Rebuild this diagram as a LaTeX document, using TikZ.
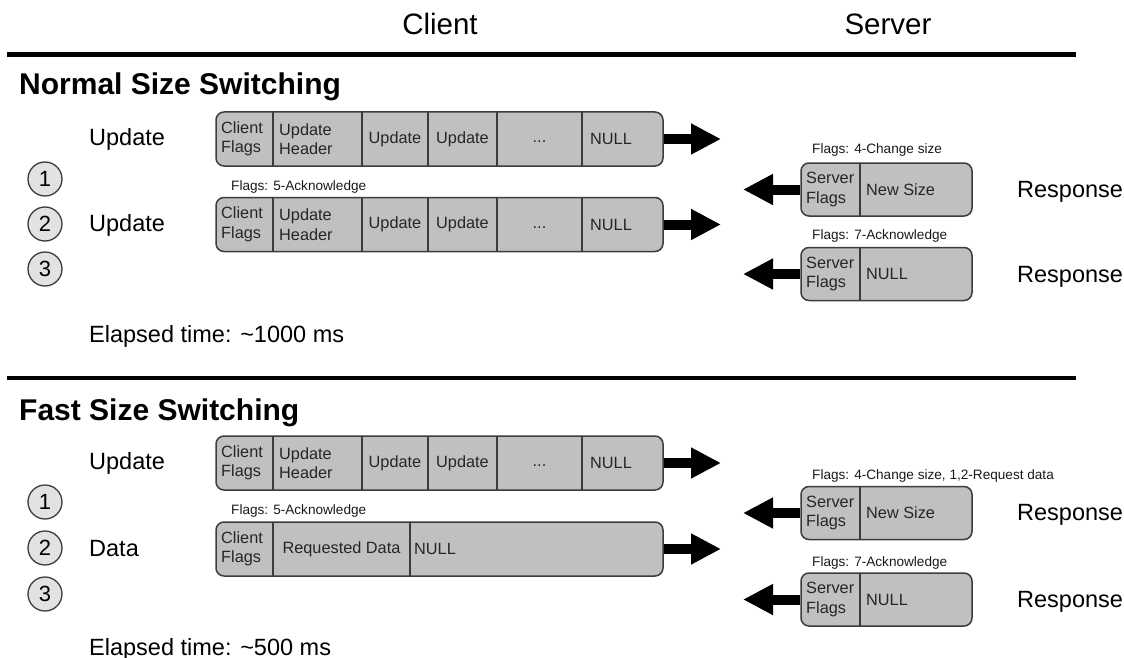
\documentclass[tikz,border=0pt]{standalone}
\usepackage{fontspec}
\setmainfont{Liberation Sans}
\usetikzlibrary{arrows.meta}
\definecolor{boxfill}{HTML}{C0C0C0}
\definecolor{boxline}{HTML}{3C3C3C}
\definecolor{circfill}{HTML}{E2E2E2}
\begin{document}
\begin{tikzpicture}[x=1pt,y=-1pt,
  pkt/.style={draw=boxline, line width=1.5pt, fill=boxfill, rounded corners=8pt, inner sep=0pt},
  cbox/.style={pkt, minimum width=447pt, minimum height=54pt},
  sbox/.style={pkt, minimum width=171pt, minimum height=53pt},
  cell/.style={font=\fontsize{16.3}{19.5}\selectfont, align=left, inner sep=0pt, text=black!85},
  flag/.style={font=\fontsize{13.6}{16}\selectfont, anchor=west, inner sep=0pt, text=black!90},
  lbl/.style={font=\fontsize{23.5}{28}\selectfont, anchor=base west, inner sep=0pt},
  head/.style={font=\fontsize{29.5}{34}\selectfont, anchor=base, inner sep=0pt},
  title/.style={font=\fontsize{30}{34}\selectfont\bfseries, anchor=base west, inner sep=0pt},
  num/.style={circle, draw=boxline, line width=1.3pt, fill=circfill, minimum size=34pt, inner sep=0pt, font=\fontsize{22}{26}\selectfont},
  bigarrow/.style={line width=10pt, -{Triangle[length=30pt,width=29pt]}},
  divider/.style={draw=boxline, line width=1.5pt},
  rule/.style={line width=4.5pt}
]
\useasboundingbox (0,0) rectangle (1124,658);

% headers
\node[head] (hclient) at (440,35) {Client};
\node[head] (hserver) at (888,35) {Server};
\draw[rule] (7,54.5) -- (1076,54.5);
\draw[rule] (7,378) -- (1076,378);

% ===== Normal Size Switching =====
\node[title] (tnormal) at (19,95) {Normal Size Switching};

\node[lbl] (lu1) at (89,146) {Update};
\node[lbl] (lu2) at (89,231) {Update};
\node[num] (c1) at (45,179) {1};
\node[num] (c2) at (45,224) {2};
\node[num] (c3) at (45,269) {3};
\node[lbl] (el1) at (89,342) {Elapsed time: \textasciitilde1000 ms};

% client row 1
\node[cbox] (na) at (439.5,139) {};
\foreach \xx in {273,362,428,497,582} \draw[divider] (\xx,112) -- (\xx,166);
\node[cell, anchor=west] (na1) at (221,139) {Client\\Flags};
\node[cell, anchor=west] (na2) at (279,139) {Update\\Header};
\node[cell] (na3) at (395,139) {Update};
\node[cell] (na4) at (462.5,139) {Update};
\node[cell] (na5) at (539.5,142) {...};
\node[cell, anchor=west] (na6) at (590,139) {NULL};
\coordinate (nat) at (721,139);
\draw[bigarrow] (na.east) -- (nat);

% client row 2
\node[flag] (fl1) at (231,187) {Flags: 5-Acknowledge};
\node[cbox] (nb) at (439.5,224.5) {};
\foreach \xx in {273,362,428,497,582} \draw[divider] (\xx,197.5) -- (\xx,251.5);
\node[cell, anchor=west] (nb1) at (221,224.5) {Client\\Flags};
\node[cell, anchor=west] (nb2) at (279,224.5) {Update\\Header};
\node[cell] (nb3) at (395,224.5) {Update};
\node[cell] (nb4) at (462.5,224.5) {Update};
\node[cell] (nb5) at (539.5,227.5) {...};
\node[cell, anchor=west] (nb6) at (590,224.5) {NULL};
\coordinate (nbt) at (721,224.5);
\draw[bigarrow] (nb.east) -- (nbt);

% server row 1
\node[flag] (fl2) at (812,150) {Flags: 4-Change size};
\node[sbox] (sa) at (886.5,189.5) {};
\draw[divider] (860,163) -- (860,216);
\node[cell, anchor=west] (sa1) at (806,189.5) {Server\\Flags};
\node[cell, anchor=west] (sa2) at (866,189.5) {New Size};
\node[lbl] (ra) at (1017,197) {Response};
\coordinate (sat) at (743,189.5);
\draw[bigarrow] (sa.west) -- (sat);

% server row 2
\node[flag] (fl3) at (812,236) {Flags: 7-Acknowledge};
\node[sbox] (sb) at (886.5,274) {};
\draw[divider] (860,247.5) -- (860,300.5);
\node[cell, anchor=west] (sb1) at (806,274) {Server\\Flags};
\node[cell, anchor=west] (sb2) at (866,274) {NULL};
\node[lbl] (rb) at (1017,282) {Response};
\coordinate (sbt) at (743,274);
\draw[bigarrow] (sb.west) -- (sbt);

% ===== Fast Size Switching =====
\node[title] (tfast) at (19,420) {Fast Size Switching};

\node[lbl] (lu3) at (89,469.5) {Update};
\node[lbl] (ld) at (89,556) {Data};
\node[num] (c4) at (45,502) {1};
\node[num] (c5) at (45,548) {2};
\node[num] (c6) at (45,594) {3};
\node[lbl] (el2) at (89,655) {Elapsed time: \textasciitilde500 ms};

% client row 1
\node[cbox] (fa) at (439.5,463) {};
\foreach \xx in {273,362,428,497,582} \draw[divider] (\xx,436) -- (\xx,490);
\node[cell, anchor=west] (fa1) at (221,463) {Client\\Flags};
\node[cell, anchor=west] (fa2) at (279,463) {Update\\Header};
\node[cell] (fa3) at (395,463) {Update};
\node[cell] (fa4) at (462.5,463) {Update};
\node[cell] (fa5) at (539.5,466) {...};
\node[cell, anchor=west] (fa6) at (590,463) {NULL};
\coordinate (fat) at (721,463);
\draw[bigarrow] (fa.east) -- (fat);

% client row 2 (data)
\node[flag] (fl4) at (231,511) {Flags: 5-Acknowledge};
\node[cbox] (fb) at (439.5,549) {};
\foreach \xx in {273,410} \draw[divider] (\xx,522) -- (\xx,576);
\node[cell, anchor=west] (fb1) at (221,549) {Client\\Flags};
\node[cell] (fb2) at (341.5,549) {Requested Data};
\node[cell, anchor=west] (fb3) at (414,549) {NULL};
\coordinate (fbt) at (721,549);
\draw[bigarrow] (fb.east) -- (fbt);

% server row 1
\node[flag] (fl5) at (812,476) {Flags: 4-Change size, 1,2-Request data};
\node[sbox] (ta) at (886.5,513) {};
\draw[divider] (860,486.5) -- (860,539.5);
\node[cell, anchor=west] (ta1) at (806,513) {Server\\Flags};
\node[cell, anchor=west] (ta2) at (866,513) {New Size};
\node[lbl] (rc) at (1017,520) {Response};
\coordinate (tat) at (743,513);
\draw[bigarrow] (ta.west) -- (tat);

% server row 2
\node[flag] (fl6) at (812,563) {Flags: 7-Acknowledge};
\node[sbox] (tb) at (886.5,599.5) {};
\draw[divider] (860,573) -- (860,626);
\node[cell, anchor=west] (tb1) at (806,599.5) {Server\\Flags};
\node[cell, anchor=west] (tb2) at (866,599.5) {NULL};
\node[lbl] (rd) at (1017,607) {Response};
\coordinate (tbt) at (743,599.5);
\draw[bigarrow] (tb.west) -- (tbt);
\end{tikzpicture}
\end{document}
